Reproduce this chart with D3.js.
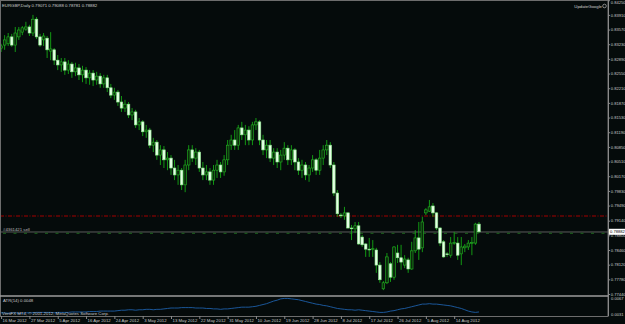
<!DOCTYPE html>
<html>
<head>
<meta charset="utf-8">
<script src="https://cdn.jsdelivr.net/npm/d3@7/dist/d3.min.js"></script>
<style>
body { margin: 0; background: #050b0b; }
svg { display: block; font-family: "Liberation Sans", Arial, sans-serif; }
</style>
</head>
<body>
<svg id="chart" width="625" height="324"></svg>
<script>
// EURGBP daily bars
var open = [0.8314,
    0.8321, 0.8324, 0.8340, 0.8321, 0.8340, 0.8351, 0.8358, 0.8363, 0.8349, 0.8381,
    0.8340, 0.8333, 0.8337, 0.8307, 0.8310, 0.8286, 0.8275, 0.8282, 0.8263, 0.8277,
    0.8259, 0.8268, 0.8252, 0.8263, 0.8245, 0.8256, 0.8240, 0.8249, 0.8231, 0.8245,
    0.8222, 0.8205, 0.8212, 0.8189, 0.8175, 0.8184, 0.8159, 0.8166, 0.8136, 0.8143,
    0.8120, 0.8124, 0.8089, 0.8096, 0.8066, 0.8078, 0.8055, 0.8059, 0.8036, 0.8020,
    0.8031, 0.7997, 0.8043, 0.8078, 0.8059, 0.8073, 0.8036, 0.8020, 0.8027, 0.8008,
    0.8031, 0.8043, 0.8027, 0.8055, 0.8089, 0.8101, 0.8089, 0.8129, 0.8113, 0.8124,
    0.8101, 0.8136, 0.8143, 0.8101, 0.8078, 0.8089, 0.8059, 0.8073, 0.8050, 0.8066,
    0.8082, 0.8055, 0.8078, 0.8050, 0.8031, 0.8043, 0.8020, 0.8036, 0.8055, 0.8031,
    0.8059, 0.8078, 0.8089, 0.8043, 0.7978, 0.7927, 0.7925, 0.7932, 0.7897, 0.7895,
    0.7902, 0.7876, 0.7860, 0.7848, 0.7848, 0.7846, 0.7811, 0.7756, 0.7770, 0.7814,
    0.7783, 0.7839, 0.7828, 0.7811, 0.7823, 0.7802, 0.7844, 0.7874, 0.7851, 0.7932,
    0.7936, 0.7948, 0.7932, 0.7897, 0.7865, 0.7837, 0.7834, 0.7862, 0.7862, 0.7837,
    0.7851, 0.7853, 0.7862, 0.7862, 0.7906];
var high = [0.8324,
    0.8344, 0.8349, 0.8347, 0.8363, 0.8363, 0.8365, 0.8375, 0.8368, 0.8391, 0.8386,
    0.8347, 0.8349, 0.8342, 0.8351, 0.8314, 0.8298, 0.8291, 0.8291, 0.8286, 0.8282,
    0.8280, 0.8277, 0.8273, 0.8270, 0.8263, 0.8263, 0.8259, 0.8256, 0.8252, 0.8252,
    0.8231, 0.8222, 0.8217, 0.8203, 0.8194, 0.8189, 0.8175, 0.8171, 0.8152, 0.8147,
    0.8136, 0.8129, 0.8106, 0.8101, 0.8089, 0.8087, 0.8073, 0.8066, 0.8055, 0.8043,
    0.8036, 0.8055, 0.8089, 0.8089, 0.8082, 0.8078, 0.8050, 0.8043, 0.8036, 0.8043,
    0.8055, 0.8050, 0.8066, 0.8101, 0.8113, 0.8124, 0.8136, 0.8143, 0.8136, 0.8133,
    0.8143, 0.8152, 0.8147, 0.8113, 0.8101, 0.8101, 0.8082, 0.8082, 0.8078, 0.8096,
    0.8089, 0.8089, 0.8082, 0.8059, 0.8055, 0.8050, 0.8043, 0.8066, 0.8059, 0.8078,
    0.8089, 0.8101, 0.8096, 0.8050, 0.7985, 0.7932, 0.7946, 0.7934, 0.7904, 0.7911,
    0.7911, 0.7881, 0.7862, 0.7874, 0.7869, 0.7851, 0.7818, 0.7774, 0.7839, 0.7818,
    0.7855, 0.7858, 0.7858, 0.7834, 0.7828, 0.7865, 0.7892, 0.7911, 0.7923, 0.7943,
    0.7962, 0.7955, 0.7934, 0.7899, 0.7869, 0.7841, 0.7876, 0.7888, 0.7876, 0.7876,
    0.7860, 0.7869, 0.7876, 0.7909, 0.7911];
var low = [0.8305,
    0.8310, 0.8319, 0.8317, 0.8305, 0.8333, 0.8344, 0.8354, 0.8342, 0.8342, 0.8335,
    0.8317, 0.8319, 0.8291, 0.8286, 0.8275, 0.8263, 0.8259, 0.8252, 0.8254, 0.8245,
    0.8249, 0.8240, 0.8235, 0.8231, 0.8229, 0.8226, 0.8229, 0.8222, 0.8222, 0.8212,
    0.8198, 0.8194, 0.8180, 0.8166, 0.8166, 0.8152, 0.8147, 0.8129, 0.8124, 0.8110,
    0.8106, 0.8082, 0.8073, 0.8055, 0.8043, 0.8036, 0.8031, 0.8020, 0.8008, 0.7997,
    0.7985, 0.7980, 0.8031, 0.8050, 0.8043, 0.8027, 0.8008, 0.8008, 0.7997, 0.7997,
    0.8013, 0.8013, 0.8018, 0.8043, 0.8078, 0.8078, 0.8078, 0.8101, 0.8089, 0.8089,
    0.8089, 0.8124, 0.8089, 0.8066, 0.8059, 0.8050, 0.8043, 0.8036, 0.8031, 0.8055,
    0.8043, 0.8043, 0.8031, 0.8020, 0.8013, 0.8008, 0.8004, 0.8027, 0.8020, 0.8020,
    0.8043, 0.8066, 0.8036, 0.7971, 0.7923, 0.7920, 0.7916, 0.7895, 0.7869, 0.7885,
    0.7858, 0.7853, 0.7830, 0.7830, 0.7830, 0.7793, 0.7770, 0.7753, 0.7767, 0.7772,
    0.7777, 0.7816, 0.7800, 0.7804, 0.7793, 0.7800, 0.7839, 0.7823, 0.7841, 0.7927,
    0.7934, 0.7923, 0.7892, 0.7855, 0.7828, 0.7830, 0.7828, 0.7858, 0.7823, 0.7811,
    0.7841, 0.7846, 0.7834, 0.7858, 0.7885];
var close = [0.8319,
    0.8333, 0.8340, 0.8321, 0.8349, 0.8356, 0.8361, 0.8363, 0.8349, 0.8381, 0.8340,
    0.8321, 0.8342, 0.8310, 0.8312, 0.8286, 0.8275, 0.8282, 0.8263, 0.8277, 0.8259,
    0.8268, 0.8252, 0.8263, 0.8245, 0.8256, 0.8240, 0.8249, 0.8231, 0.8245, 0.8222,
    0.8205, 0.8212, 0.8189, 0.8175, 0.8184, 0.8159, 0.8166, 0.8136, 0.8143, 0.8120,
    0.8124, 0.8089, 0.8096, 0.8066, 0.8078, 0.8055, 0.8059, 0.8036, 0.8020, 0.8031,
    0.7997, 0.8043, 0.8078, 0.8059, 0.8073, 0.8036, 0.8020, 0.8027, 0.8008, 0.8031,
    0.8043, 0.8027, 0.8055, 0.8089, 0.8101, 0.8089, 0.8129, 0.8113, 0.8124, 0.8101,
    0.8136, 0.8143, 0.8101, 0.8078, 0.8089, 0.8059, 0.8073, 0.8050, 0.8066, 0.8082,
    0.8055, 0.8078, 0.8050, 0.8031, 0.8043, 0.8020, 0.8036, 0.8055, 0.8031, 0.8059,
    0.8078, 0.8089, 0.8043, 0.7978, 0.7930, 0.7926, 0.7932, 0.7897, 0.7896, 0.7902,
    0.7860, 0.7858, 0.7848, 0.7847, 0.7849, 0.7811, 0.7777, 0.7770, 0.7830, 0.7783,
    0.7853, 0.7828, 0.7818, 0.7825, 0.7802, 0.7844, 0.7874, 0.7848, 0.7911, 0.7939,
    0.7946, 0.7932, 0.7897, 0.7862, 0.7830, 0.7836, 0.7862, 0.7863, 0.7834, 0.7853,
    0.7855, 0.7862, 0.7863, 0.7906, 0.78882];

// ATR(14) sub window
var atr = [0.0033, 0.0033, 0.0032, 0.0033, 0.0033, 0.0032, 0.0032, 0.0033, 0.0033, 0.0033, 0.0034, 0.0034,
    0.0034, 0.0034, 0.0034, 0.0033, 0.0034, 0.0034, 0.0034, 0.0034, 0.0035, 0.0035, 0.0035,
    0.0035, 0.0035, 0.0036, 0.0036, 0.0036, 0.0037, 0.0037, 0.0037, 0.0037, 0.0037, 0.0038,
    0.0039, 0.0039, 0.0040, 0.0040, 0.0039, 0.0040, 0.0040,
    0.0041, 0.0041, 0.0040, 0.0041, 0.0041, 0.0042,
    0.0043, 0.0044, 0.0044, 0.0044, 0.0045, 0.0045,
    0.0045, 0.0045, 0.0044, 0.0044,
    0.0044, 0.0043, 0.0043, 0.0042,
    0.0042, 0.0041, 0.0042, 0.0042, 0.0043, 0.0044,
    0.0045, 0.0046, 0.0046, 0.0046, 0.0047, 0.0048, 0.0050,
    0.0052, 0.0054, 0.0057, 0.0060, 0.0062,
    0.0065, 0.0066, 0.0066, 0.0065, 0.0064, 0.0063,
    0.0061, 0.0059, 0.0057, 0.0055,
    0.0053, 0.0052, 0.0050, 0.0049, 0.0047,
    0.0045, 0.0043, 0.0042, 0.0041,
    0.0040, 0.0040, 0.0039, 0.0040, 0.0039, 0.0038,
    0.0037, 0.0036, 0.0035, 0.0034, 0.0034, 0.0035, 0.0037,
    0.0038, 0.0040, 0.0042, 0.0043, 0.0045, 0.0047,
    0.0049, 0.0051, 0.0053, 0.0053, 0.0054, 0.0053, 0.0053, 0.0052,
    0.0051, 0.0050, 0.0049, 0.0047, 0.0045, 0.0043, 0.0040,
    0.0037, 0.0035, 0.0034, 0.0035];

var dateLabels = ['16 Mar 2012', '27 Mar 2012', '5 Apr 2012', '16 Apr 2012', '24 Apr 2012', '3 May 2012',
    '13 May 2012', '22 May 2012', '31 May 2012', '10 Jun 2012', '19 Jun 2012', '28 Jun 2012',
    '8 Jul 2012', '17 Jul 2012', '26 Jul 2012', '5 Aug 2012', '14 Aug 2012'];
var dateBars = [0, 8, 16, 24, 32, 40, 48, 56, 64, 72, 80, 88, 96, 104, 112, 120, 128];

var priceTicks = [0.84250, 0.83910, 0.83570, 0.83230, 0.82890, 0.82550, 0.82210, 0.81870, 0.81530, 0.81190,
    0.80850, 0.80510, 0.80170, 0.79830, 0.79490, 0.79140, 0.78800, 0.78460, 0.78120, 0.77780, 0.77440];
var atrTicks = [0.0067, 0.0031];
var atrLabels = ['0.0067', '0.0031'];

var lastPrice = 0.78882;
var orderPrice = 0.78876;
var stopPrice = 0.79248;

var title = 'EURGBP,Daily 0.79071 0.79088 0.78781 0.78882';

var width = 625, height = 324;
var plotRight = 608, mainBottom = 295, atrBottom = 316;
var fontSize = 4.3;

var svg = d3.select('#chart');

var x = d3.scaleLinear()
    .domain([0, 171])
    .range([1.1, 606.4]);

var y = d3.scaleLinear()
    .domain([0.77440, 0.84255])
    .range([294, 0]);

var yAtr = d3.scaleLinear()
    .domain([0.0031, 0.0067])
    .range([313.7, 298]);

svg.append('rect')
    .attr('width', width)
    .attr('height', height)
    .attr('fill', '#050b0b');

svg.append('defs').append('clipPath')
    .attr('id', 'clip-main')
    .append('rect')
    .attr('x', 1).attr('y', 1)
    .attr('width', plotRight - 1).attr('height', mainBottom - 1);

// frame
svg.append('rect')
    .attr('x', 0.5).attr('y', 0.5)
    .attr('width', plotRight - 0.5).attr('height', atrBottom)
    .attr('fill', 'none')
    .attr('stroke', '#6d6d6d')
    .attr('stroke-width', 1);

// panel separator
svg.append('line')
    .attr('x1', 0).attr('x2', plotRight)
    .attr('y1', 296).attr('y2', 296)
    .attr('stroke', '#9c9c9c')
    .attr('stroke-width', 1.6);

var main = svg.append('g').attr('clip-path', 'url(#clip-main)');

// stop line (red dash dot)
main.append('line')
    .attr('x1', 0).attr('x2', plotRight)
    .attr('y1', y(stopPrice)).attr('y2', y(stopPrice))
    .attr('stroke', '#a40000')
    .attr('stroke-width', 1)
    .attr('stroke-dasharray', '4,1.5,1,1.5');

// bid line
main.append('line')
    .attr('x1', 0).attr('x2', plotRight)
    .attr('y1', y(lastPrice) + 0.2).attr('y2', y(lastPrice) + 0.2)
    .attr('stroke', '#5c5c5c')
    .attr('stroke-width', 1);

// order line
main.append('line')
    .attr('x1', 3).attr('x2', plotRight)
    .attr('y1', y(orderPrice) + 1.2).attr('y2', y(orderPrice) + 1.2)
    .attr('stroke', '#1f6a1f')
    .attr('stroke-width', 1)
    .attr('stroke-dasharray', '3,7.5');

main.append('text')
    .attr('x', 3).attr('y', y(lastPrice) - 0.6)
    .attr('fill', '#bdbdbd')
    .attr('font-size', fontSize)
    .text('#4361421 sell');

// candles
var bars = d3.range(open.length);

main.selectAll('.wick')
    .data(bars)
    .enter().append('line')
    .attr('class', 'wick')
    .attr('x1', function (i) { return x(i); })
    .attr('x2', function (i) { return x(i); })
    .attr('y1', function (i) { return y(high[i]); })
    .attr('y2', function (i) { return y(low[i]); })
    .attr('stroke', '#14a814')
    .attr('stroke-width', 0.9);

main.selectAll('.body')
    .data(bars)
    .enter().append('rect')
    .attr('class', 'body')
    .attr('x', function (i) { return x(i) - 1.3; })
    .attr('width', 2.6)
    .attr('y', function (i) { return y(Math.max(open[i], close[i])); })
    .attr('height', function (i) { return Math.max(0.8, Math.abs(y(open[i]) - y(close[i]))); })
    .attr('fill', function (i) { return close[i] >= open[i] ? '#0b2a0b' : '#e4ffe4'; })
    .attr('stroke', function (i) { return close[i] >= open[i] ? '#24b824' : '#8ee88e'; })
    .attr('stroke-width', 0.6);

// title and expert name
svg.append('text')
    .attr('x', 2).attr('y', 6.5)
    .attr('fill', '#d0d0d0')
    .attr('font-size', fontSize)
    .text(title);

svg.append('text')
    .attr('x', 602).attr('y', 7.5)
    .attr('text-anchor', 'end')
    .attr('fill', '#d0d0d0')
    .attr('font-size', fontSize)
    .text('UpdateGoogle');

svg.append('circle')
    .attr('cx', 604.5).attr('cy', 6)
    .attr('r', 1.8)
    .attr('fill', 'none')
    .attr('stroke', '#d0d0d0')
    .attr('stroke-width', 0.6);

// price axis
var yAxis = d3.axisRight(y)
    .tickValues(priceTicks)
    .tickFormat(function (d) { return d.toFixed(5); })
    .tickSize(2)
    .tickPadding(0.8);

var gy = svg.append('g')
    .attr('transform', 'translate(' + plotRight + ',0)')
    .call(yAxis);

gy.select('.domain').attr('stroke', '#8a8a8a').attr('d', 'M0.5,0V' + atrBottom);
gy.selectAll('line').attr('stroke', '#8a8a8a');
gy.selectAll('text')
    .attr('fill', '#c8c8c8')
    .attr('font-size', 4.1)
    .attr('font-family', '"Liberation Sans", Arial, sans-serif');

// keep the topmost label inside the picture
gy.selectAll('.tick')
    .filter(function (d) { return y(d) < 2.5; })
    .select('text')
    .attr('y', function (d) { return 2.5 - y(d); });

// current price box
svg.append('rect')
    .attr('x', plotRight + 1).attr('y', y(lastPrice) - 3)
    .attr('width', 16).attr('height', 6)
    .attr('fill', '#ffffff');

svg.append('text')
    .attr('x', plotRight + 2).attr('y', y(lastPrice) + 1.6)
    .attr('fill', '#000')
    .attr('font-size', 4.1)
    .text(lastPrice.toFixed(5));

// ATR window
var atrLine = d3.line()
    .x(function (d, i) { return x(i); })
    .y(function (d) { return yAtr(d); });

svg.append('path')
    .datum(atr)
    .attr('d', atrLine)
    .attr('fill', 'none')
    .attr('stroke', '#1d5fa8')
    .attr('stroke-width', 0.9);

var atrAxis = d3.axisRight(yAtr)
    .tickValues(atrTicks)
    .tickFormat(function (d, i) { return atrLabels[i]; })
    .tickSize(0)
    .tickPadding(3);

var ga = svg.append('g')
    .attr('transform', 'translate(' + plotRight + ',0)')
    .call(atrAxis);
ga.select('.domain').remove();
ga.selectAll('text')
    .attr('fill', '#c8c8c8')
    .attr('font-size', 4.1)
    .attr('font-family', '"Liberation Sans", Arial, sans-serif');

svg.append('text')
    .attr('x', 3).attr('y', 302)
    .attr('fill', '#c8c8c8')
    .attr('font-size', fontSize)
    .text('ATR(14) 0.0048');

svg.append('text')
    .attr('x', 2).attr('y', 314.5)
    .attr('fill', '#c8c8c8')
    .attr('font-size', fontSize)
    .text('VertiFX MT4, \u00a9 2001-2012, MetaQuotes Software Corp.');

// time axis
var xAxis = d3.axisBottom(x)
    .tickValues(dateBars)
    .tickFormat(function (d, i) { return dateLabels[i]; })
    .tickSize(3)
    .tickPadding(-1);

var gx = svg.append('g')
    .attr('transform', 'translate(0,' + atrBottom + ')')
    .call(xAxis);

gx.select('.domain').remove();
gx.selectAll('line').attr('stroke', '#8a8a8a');
gx.selectAll('text')
    .attr('text-anchor', 'start')
    .attr('dx', 1)
    .attr('dy', 0)
    .attr('y', 6)
    .attr('fill', '#c8c8c8')
    .attr('font-size', fontSize)
    .attr('font-family', '"Liberation Sans", Arial, sans-serif');
</script>
</body>
</html>
